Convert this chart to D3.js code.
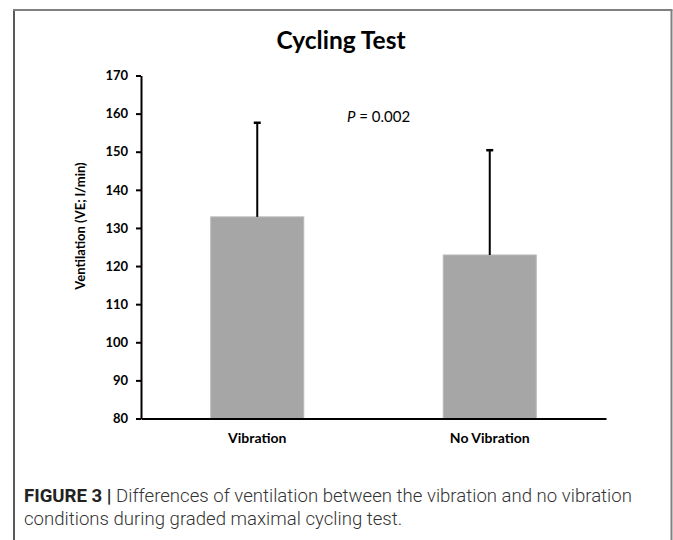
<!DOCTYPE html>
<meta charset="utf-8">
<script src="https://d3js.org/d3.v7.min.js"></script>
<style>
  body { margin: 0; background: #fff; overflow: hidden; }
  svg { display: block; }
</style>
<svg id="vis"></svg>
<script>
    // Values
    let groups = ['Vibration', 'No Vibration']
    let means = [132.9, 122.9]
    let sds = [24.7, 27.5]
    let yTicks = [80, 90, 100, 110, 120, 130, 140, 150, 160, 170]

    var W = 673, H = 540
    var plotLeft = 141, plotRight = 606, plotTop = 75.5, plotBottom = 418.5

    let svg = d3.select('#vis')
        .attr('width', W)
        .attr('height', H)

    // Frame round the figure
    svg.append('line').attr('x1', 14).attr('x2', 14).attr('y1', 10).attr('y2', H)
        .attr('stroke', '#222').attr('stroke-width', 1.5)
    svg.append('line').attr('x1', 13).attr('x2', 672.5).attr('y1', 10).attr('y2', 10)
        .attr('stroke', '#808080').attr('stroke-width', 2)
    svg.append('line').attr('x1', 671.5).attr('x2', 671.5).attr('y1', 10).attr('y2', H)
        .attr('stroke', '#808080').attr('stroke-width', 2)

    // Title
    svg.append('text')
        .attr('x', 341)
        .attr('y', 49)
        .attr('text-anchor', 'middle')
        .style('font-family', 'Lato')
        .style('font-weight', 'bold')
        .style('font-size', '24.5px')
        .text('Cycling Test')

    var x = d3.scaleBand()
        .domain(groups)
        .range([plotLeft, plotRight])
        .paddingInner(0.6)
        .paddingOuter(0.3)

    var y = d3.scaleLinear()
        .domain([80, 170])
        .range([plotBottom, plotTop])

    // Bars
    svg.append('g')
        .selectAll('rect')
        .data(groups)
        .enter()
        .append('rect')
        .attr('x', function (d) { return x(d) })
        .attr('width', x.bandwidth())
        .attr('y', function (d, i) { return y(means[i]) })
        .attr('height', function (d, i) { return plotBottom - y(means[i]) })
        .style('fill', '#a6a6a6')
        .style('stroke', '#b8b8b8')
        .style('stroke-width', '1px')

    // Error bars (upper half only)
    let err = svg.append('g')
    err.selectAll('line.stem')
        .data(groups)
        .enter()
        .append('line')
        .attr('class', 'stem')
        .attr('x1', function (d) { return x(d) + x.bandwidth() / 2 })
        .attr('x2', function (d) { return x(d) + x.bandwidth() / 2 })
        .attr('y1', function (d, i) { return y(means[i]) })
        .attr('y2', function (d, i) { return y(means[i] + sds[i]) })
        .style('stroke', '#000')
        .style('stroke-width', '2px')
    err.selectAll('line.cap')
        .data(groups)
        .enter()
        .append('line')
        .attr('class', 'cap')
        .attr('x1', function (d) { return x(d) + x.bandwidth() / 2 - 3.5 })
        .attr('x2', function (d) { return x(d) + x.bandwidth() / 2 + 3.5 })
        .attr('y1', function (d, i) { return y(means[i] + sds[i]) })
        .attr('y2', function (d, i) { return y(means[i] + sds[i]) })
        .style('stroke', '#000')
        .style('stroke-width', '2.5px')

    // Y axis
    let yAxis = svg.append('g')
        .attr('transform', 'translate(' + plotLeft + ',0)')
        .call(d3.axisLeft(y).tickValues(yTicks).tickSize(5).tickSizeOuter(0).tickPadding(8))
    yAxis.select('.domain').attr('stroke', '#000').attr('stroke-width', 2)
    yAxis.selectAll('.tick line').attr('stroke', '#000').attr('stroke-width', 2)
    yAxis.selectAll('text')
        .style('font-family', 'Lato')
        .style('font-weight', 'bold')
        .style('font-size', '13px')
        .attr('fill', '#000')

    // X axis
    let xAxis = svg.append('g')
        .attr('transform', 'translate(0,' + plotBottom + ')')
        .call(d3.axisBottom(x).tickSize(0).tickSizeOuter(0).tickPadding(15))
    xAxis.select('.domain').attr('stroke', '#000').attr('stroke-width', 2)
    xAxis.selectAll('text')
        .style('font-family', 'Lato')
        .style('font-weight', 'bold')
        .style('font-size', '14px')
        .attr('fill', '#000')

    // Y axis label
    svg.append('text')
        .attr('transform', 'translate(85,226) rotate(-90)')
        .attr('text-anchor', 'middle')
        .style('font-family', 'Lato')
        .style('font-weight', 'bold')
        .style('font-size', '13px')
        .text('Ventilation (VE; l/min)')

    // P value
    let p = svg.append('text')
        .attr('x', 347)
        .attr('y', 122)
        .style('font-family', 'Lato')
        .style('font-size', '15px')
    p.append('tspan').style('font-style', 'italic').text('P')
    p.append('tspan').text(' = 0.002')

    // Caption
    let cap = svg.append('text')
        .style('font-family', 'Roboto')
        .style('font-size', '18.6px')
        .attr('fill', '#333')
    let l1 = cap.append('tspan').attr('x', 24).attr('y', 501.5)
    l1.append('tspan').style('font-weight', 'bold').attr('fill', '#222').text('FIGURE 3 |')
    l1.append('tspan').style('font-weight', '300').text(' Differences of ventilation between the vibration and no vibration')
    cap.append('tspan').attr('x', 24).attr('y', 524.5)
        .style('font-weight', '300')
        .text('conditions during graded maximal cycling test.')
</script>
